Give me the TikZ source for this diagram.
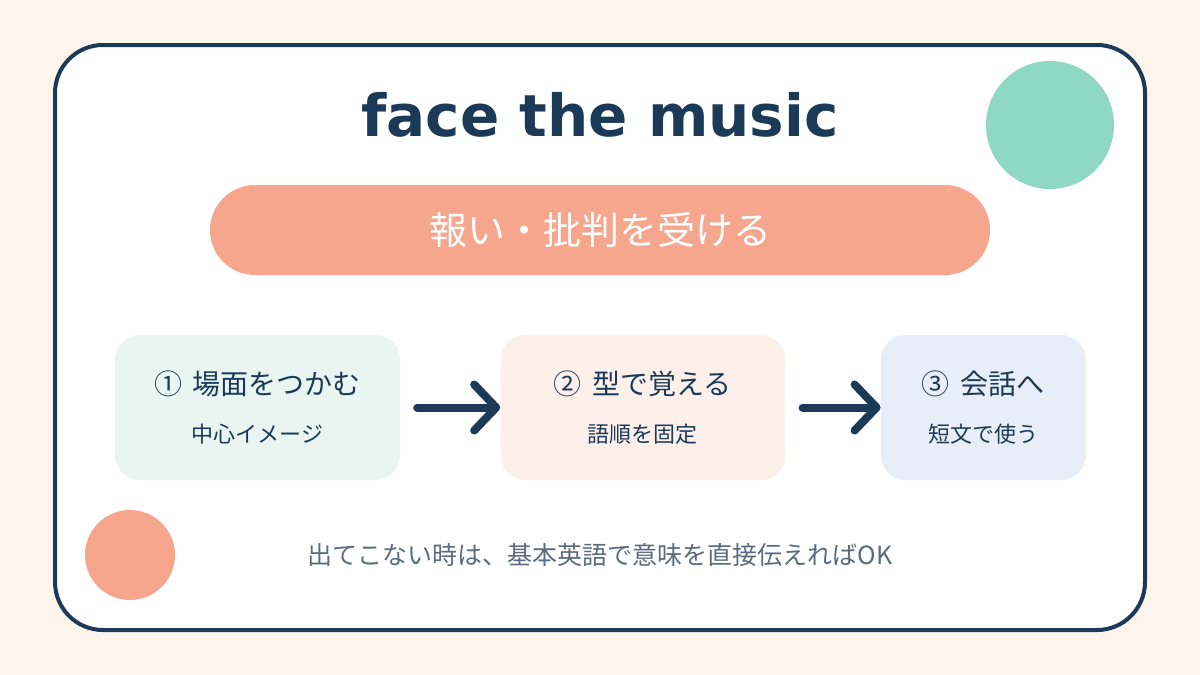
\documentclass[tikz,border=0pt]{standalone}
\usepackage{fontspec}
\setmainfont{DejaVu Sans}
\newfontfamily\jp{Noto Sans CJK JP}
\usetikzlibrary{positioning,arrows.meta}
\definecolor{navy}{HTML}{1B3A57}
\definecolor{paper}{HTML}{FDF5EC}
\definecolor{salmon}{HTML}{F6A68D}
\definecolor{seafoam}{HTML}{8FD8C4}
\definecolor{mintbg}{HTML}{E8F5F0}
\definecolor{peachbg}{HTML}{FDF0EB}
\definecolor{bluebg}{HTML}{E8EEF8}
\definecolor{notegray}{HTML}{5B6B7D}

\begin{document}
\begin{tikzpicture}[x=1pt,y=-1pt,
    stepbox/.style={rounded corners=25pt,minimum height=145pt,align=center,text=navy},
    go/.style={line width=8pt,line cap=round,navy,-{Straight Barb[length=22pt,width=46pt,round]}}]
   \fill[paper] (0,0) rectangle (1200,675);
   \useasboundingbox (0,0) rectangle (1200,675);
   \draw[navy,line width=4pt,rounded corners=48pt,fill=white] (55,45) rectangle (1145,630);
   \fill[seafoam] (1050,125) circle (64pt);
   \fill[salmon] (130,555) circle (45pt);
   \node[text=navy,font=\bfseries\fontsize{58}{62}\selectfont] (title) at (600,115) {face the music};
   \node[fill=salmon,rounded corners=45pt,minimum width=780pt,minimum height=90pt,
         text=white,font={\jp\fontsize{38}{42}\selectfont}] (meaning) at (600,230) {報い・批判を受ける};
   \node[stepbox,fill=mintbg,minimum width=285pt] (scene) at (257.5,407.5)
        {{\jp\fontsize{28}{32}\selectfont ①\, 場面をつかむ}\\[26pt]{\jp\fontsize{22}{26}\selectfont 中心イメージ}};
   \node[stepbox,fill=peachbg,minimum width=285pt] (pattern) [right=100pt of scene]
        {{\jp\fontsize{28}{32}\selectfont ②\, 型で覚える}\\[26pt]{\jp\fontsize{22}{26}\selectfont 語順を固定}};
   \node[stepbox,fill=bluebg,minimum width=205pt] (talk) [right=95pt of pattern]
        {{\jp\fontsize{28}{32}\selectfont ③\, 会話へ}\\[26pt]{\jp\fontsize{22}{26}\selectfont 短文で使う}};
    \draw[go] ([xshift=17pt]scene.east) -- (pattern.west);
    \draw[go] ([xshift=17pt]pattern.east) -- (talk.west);
   \node[text=notegray,font={\jp\fontsize{25}{29}\selectfont}] (note) at (600,555)
        {出てこない時は、基本英語で意味を直接伝えればOK};
\end{tikzpicture}
\end{document}
